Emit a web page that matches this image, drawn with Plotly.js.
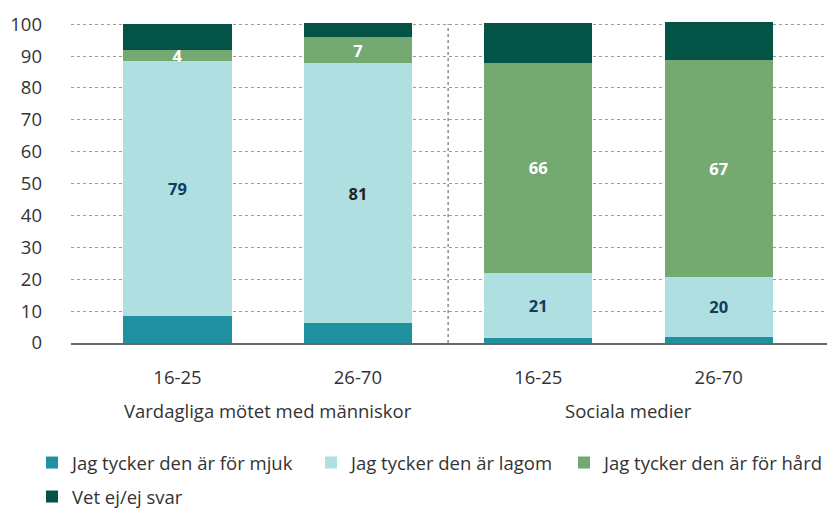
<!DOCTYPE html>
<html>
<head>
<meta charset="utf-8">
<script src="https://cdn.plot.ly/plotly-3.0.1.min.js"></script>
<style>body{margin:0;background:#fff}#chart{width:827px;height:508px}</style>
</head>
<body>
<div id="chart"></div>
<script>
// categories
var ages = ["16-25", "26-70", "16-25", "26-70"];
var groups = ["Vardagliga mötet med människor", "Sociala medier"];
var xpos = [0, 1, 2, 3];

// shares in percent
var mjuk = [8.6, 6.2, 1.7, 2.0];
var lagom = [79.7, 81.5, 20.3, 18.8];
var hard = [3.6, 8.4, 65.8, 67.9];
var vetej = [8.2, 4.4, 12.5, 11.9];

// printed labels
var lagomLabels = ["79", "81", "21", "20"];
var hardLabels = ["4", "7", "66", "67"];

var fontFam = "Open Sans, Noto Sans, sans-serif";
var fs = 18.5;

var traces = [
  {name: "Jag tycker den är för mjuk", y: mjuk, color: "#2091a1", text: null, tc: null, lg: "legend", lx: 32, ly: 463},
  {name: "Jag tycker den är lagom", y: lagom, color: "#afdfe0", text: lagomLabels, tc: ["#0d3e5f", "#222222", "#0d3e5f", "#0d3e5f"], lg: "legend2", lx: 311, ly: 463},
  {name: "Jag tycker den är för hård", y: hard, color: "#74aa72", text: hardLabels, tc: "#ffffff", lg: "legend3", lx: 564, ly: 463},
  {name: "Vet ej/ej svar", y: vetej, color: "#035446", text: null, tc: null, lg: "legend4", lx: 32, ly: 497}
];

var data = traces.map(function (t) {
  var tr = {
    type: "bar",
    x: xpos,
    y: t.y,
    name: t.name,
    legend: t.lg,
    width: 0.6,
    marker: {color: t.color, line: {width: 0}},
    hoverinfo: "name+y"
  };
  if (t.text) {
    tr.text = t.text;
    tr.textposition = "inside";
    tr.insidetextanchor = "middle";
    tr.textangle = 0;
    tr.textfont = {family: fontFam, size: 16.5, color: t.tc, weight: "bold"};
  } else {
    tr.textposition = "none";
  }
  return tr;
});

var layout = {
  width: 827,
  height: 508,
  barmode: "stack",
  font: {family: fontFam, size: fs, color: "#333333"},
  margin: {l: 71, r: 0, t: 21, b: 165},
  paper_bgcolor: "#ffffff",
  plot_bgcolor: "#ffffff",
  uniformtext: {mode: "show", minsize: 16.5},
  xaxis: {
    range: [-0.59, 3.6],
    tickvals: xpos,
    ticktext: ages,
    showgrid: false,
    zeroline: false,
    showline: true,
    linecolor: "#666666",
    linewidth: 2,
    ticks: "",
    ticklabelstandoff: 17,
    fixedrange: true
  },
  yaxis: {
    range: [0, 101],
    tickvals: [0, 10, 20, 30, 40, 50, 60, 70, 80, 90, 100],
    showgrid: true,
    gridcolor: "#9a9a9a",
    griddash: "dot",
    gridwidth: 1,
    zeroline: false,
    ticks: "",
    ticklabelstandoff: 28,
    fixedrange: true
  },
  shapes: [{
    type: "line", xref: "x", yref: "y",
    x0: 1.5, x1: 1.5, y0: 0, y1: 100,
    line: {color: "#555555", width: 1, dash: "dot"},
    layer: "below"
  }],
  annotations: [
    {text: groups[0], x: 0.5, xref: "x", y: 0, yref: "paper", yanchor: "middle", yshift: -67, showarrow: false, font: {size: fs, color: "#333333"}},
    {text: groups[1], x: 2.5, xref: "x", y: 0, yref: "paper", yanchor: "middle", yshift: -67, showarrow: false, font: {size: fs, color: "#333333"}}
  ],
  showlegend: true
};

traces.forEach(function (t) {
  layout[t.lg] = {
    orientation: "h",
    x: t.lx / 827, xref: "container", xanchor: "left",
    y: 1 - t.ly / 508, yref: "container", yanchor: "middle",
    font: {size: fs, color: "#333333"},
    bgcolor: "rgba(0,0,0,0)"
  };
});

Plotly.newPlot("chart", data, layout, {displayModeBar: false, staticPlot: true});
</script>
</body>
</html>
